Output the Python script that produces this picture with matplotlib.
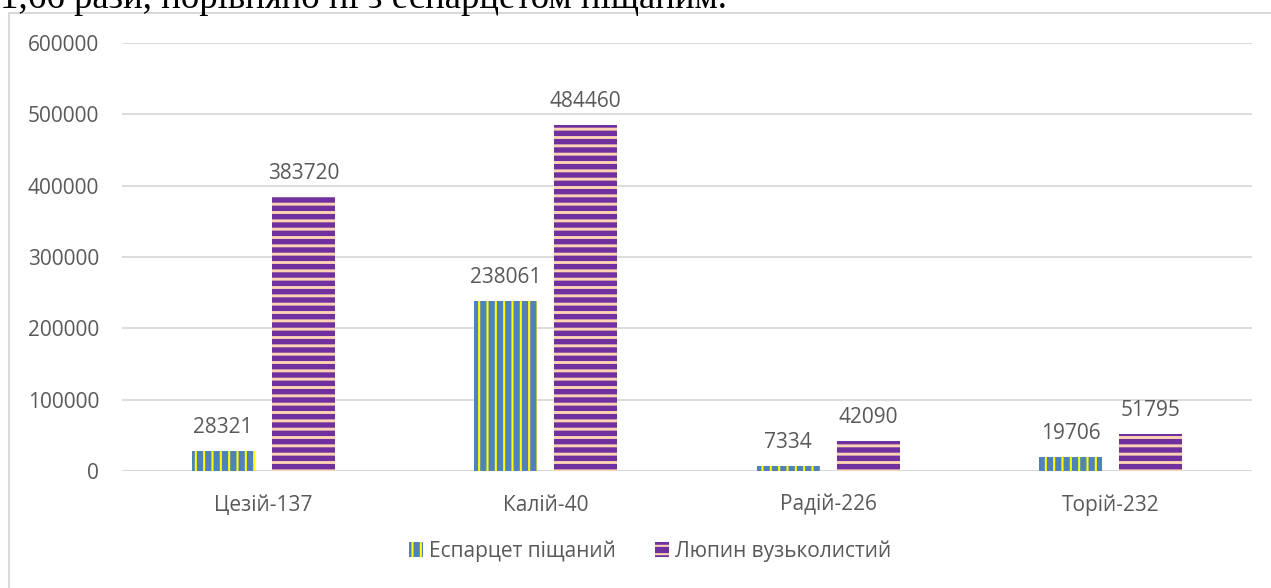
import matplotlib
matplotlib.use("Agg")
import matplotlib.pyplot as plt
from matplotlib.patches import Rectangle
import numpy as np

categories = ["Цезій-137", "Калій-40", "Радій-226", "Торій-232"]
series_names = ["Еспарцет піщаний", "Люпин вузьколистий"]
esparcet = [28321, 238061, 7334, 19706]
lupin = [383720, 484460, 42090, 51795]
yticks = [0, 100000, 200000, 300000, 400000, 500000, 600000]
top_text = "1,66 рази, порівняно ні з еспарцетом піщаним."

W, H = 1271, 588
plt.rcParams['font.family'] = ['Open Sans', 'DejaVu Sans']
plt.rcParams['hatch.linewidth'] = 1.5

TXT = '#595959'
BLUE = '#4F81BD'
YELLOW = '#FFFF00'
PURPLE = '#7030A0'
PEACH = '#FBD4B4'
GRID = '#D9D9D9'
FS = 15

fig = plt.figure(figsize=(W / 100, H / 100), dpi=100)

# chart border (extends past right/bottom edges)
fig.patches.append(Rectangle((8.5 / W, -0.5), 2, 1.5 - 12.5 / H,
                             transform=fig.transFigure, fill=False,
                             edgecolor=GRID, linewidth=1.5))
# cut-off document text above the chart
fig.text(0.0 / W, 1 - 8 / H, top_text, family='Liberation Serif',
         fontsize=26.5, color='black', va='baseline', ha='left')

ax = fig.add_axes([122 / W, 1 - 471 / H, (1252 - 122) / W, (471 - 43) / H])
x = np.arange(len(categories))
bw = 0.223
off = 0.1416

b1 = ax.bar(x - off, esparcet, bw, color=BLUE, edgecolor=YELLOW,
            linewidth=0, hatch='||', zorder=3, label=series_names[0])
b2 = ax.bar(x + off, lupin, bw, color=PURPLE, edgecolor=PEACH,
            linewidth=0, hatch='--', zorder=3, label=series_names[1])
for p in b2:
    if hasattr(p, 'set_hatch_linewidth'):
        p.set_hatch_linewidth(2.1)
for p in b1:
    if hasattr(p, 'set_hatch_linewidth'):
        p.set_hatch_linewidth(1.5)

for bars, vals in ((b1, esparcet), (b2, lupin)):
    for p, v in zip(bars, vals):
        ax.annotate(f"{v}", (p.get_x() + p.get_width() / 2, v),
                    xytext=(0, 13), textcoords='offset points',
                    ha='center', va='baseline', fontsize=FS, color=TXT)

ax.set_xlim(-0.5, len(categories) - 0.5)
ax.set_ylim(0, 600000)
ax.set_yticks(yticks)
ax.set_yticklabels([str(t) for t in yticks])
ax.set_xticks(x)
ax.set_xticklabels(categories)
ax.tick_params(axis='y', length=0, pad=16.5, labelsize=FS, labelcolor=TXT)
ax.tick_params(axis='x', length=0, pad=17, labelsize=FS, labelcolor=TXT)
ax.grid(axis='y', color=GRID, linewidth=1.3, zorder=0)
for s in ax.spines.values():
    s.set_visible(False)
ax.axhline(0, color=GRID, linewidth=1.5, zorder=2)

leg = fig.legend(handles=[b1, b2], labels=series_names, loc='center',
                 bbox_to_anchor=(650 / W, 1 - 551 / H), ncol=2, frameon=False,
                 fontsize=FS, handlelength=0.67, handleheight=0.67,
                 handletextpad=0.3, columnspacing=1.85, labelcolor=TXT)

fig.savefig("out.png", dpi=100)
